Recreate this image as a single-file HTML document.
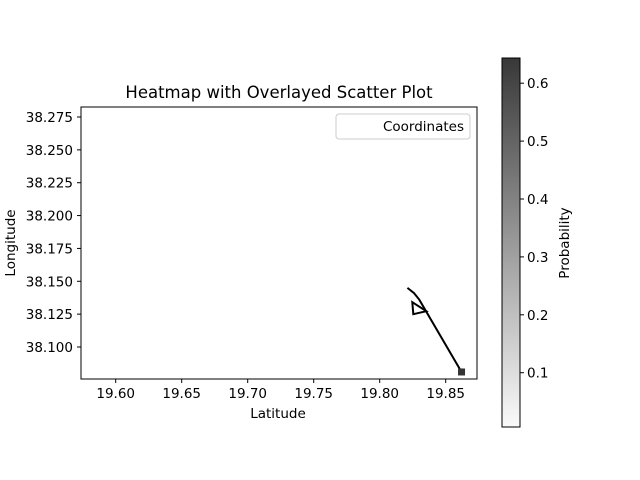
<!DOCTYPE html>
<html><head><meta charset="utf-8"><style>
body{margin:0;background:#fff;}
svg{display:block;font-family:"DejaVu Sans","Liberation Sans",sans-serif;}
</style></head><body>
<svg id="c" width="640" height="480" viewBox="0 0 640 480">
<defs><linearGradient id="cg" x1="0" y1="1" x2="0" y2="0"><stop offset="0" stop-color="#fafafa"/><stop offset="1" stop-color="#383838"/></linearGradient></defs>
<rect x="0" y="0" width="640" height="480" fill="#fff"/>
<text x="279" y="98" font-size="16.5" text-anchor="middle">Heatmap with Overlayed Scatter Plot</text>
<g id="plot"></g>
<rect x="81" y="107" width="396" height="272" fill="none" stroke="#000" stroke-width="1"/>
<g>
<rect x="336" y="114" width="134" height="25" rx="3" fill="#fff" stroke="#ccc"/>
<text x="464" y="131" font-size="13.5" text-anchor="end">Coordinates</text>
</g>
<text x="278" y="418" font-size="13.5" text-anchor="middle">Latitude</text>
<text transform="translate(15,243) rotate(-90)" font-size="13.5" text-anchor="middle">Longitude</text>
<rect x="502" y="58" width="18" height="369" fill="url(#cg)" stroke="#000" stroke-width="1"/>
<g id="cb"></g>
<text transform="translate(569,243) rotate(-90)" font-size="13.5" text-anchor="middle">Probability</text>
</svg>
<script>
const xTicks=[19.60,19.65,19.70,19.75,19.80,19.85];
const yTicks=[38.100,38.125,38.150,38.175,38.200,38.225,38.250,38.275];
const cbTicks=[0.1,0.2,0.3,0.4,0.5,0.6];
const pathLat=[19.821,19.826,19.830,19.862];
const pathLon=[38.145,38.141,38.136,38.081];
const markerLat=[19.862];
const markerLon=[38.081];
const arrowLat=[19.830];
const arrowLon=[38.128];
const NS='http://www.w3.org/2000/svg';
const X=v=>115.7+(v-19.60)*1320;
const Y=v=>347-(v-38.100)*1314.3;
const C=v=>372.7-(v-0.1)*579;
const plot=document.getElementById('plot'),cb=document.getElementById('cb'),svg=document.getElementById('c');
function mk(t,a,p){const e=document.createElementNS(NS,t);for(const k in a)e.setAttribute(k,a[k]);(p||svg).appendChild(e);return e;}
xTicks.forEach(v=>{
const l=mk('line',{x1:X(v),x2:X(v),y1:379,y2:383,stroke:'#000'});


const t=mk('text',{x:X(v),y:398,'font-size':13.5,'text-anchor':'middle'});t.textContent=v.toFixed(2);


});
yTicks.forEach(v=>{
const l=mk('line',{x1:77,x2:81,y1:Y(v),y2:Y(v),stroke:'#000'});


const t=mk('text',{x:73,y:Y(v)+5,'font-size':13.5,'text-anchor':'end'});t.textContent=v.toFixed(3);


});
cbTicks.forEach(v=>{
const l=mk('line',{x1:520,x2:524,y1:C(v),y2:C(v),stroke:'#000'},cb);


const t=mk('text',{x:527,y:C(v)+5,'font-size':13.5},cb);t.textContent=v.toFixed(1);


});
let d=pathLat.map((v,i)=>(i?'L':'M')+X(v)+','+Y(pathLon[i])).join(' ');
const p=mk('path',{d:d,fill:'none',stroke:'#000','stroke-width':2},plot);


markerLat.forEach((v,i)=>{
const r=mk('rect',{x:X(v)-3.5,y:Y(markerLon[i])-3.5,width:7,height:7,fill:'#333'},plot);


});
arrowLat.forEach((v,i)=>{
const cx=X(v),cy=Y(arrowLon[i]);
const a=mk('polygon',{points:`${cx-7},${cy-8} ${cx-6},${cy+4} ${cx+7},${cy+1}`,fill:'none',stroke:'#000','stroke-width':2},plot);


});
</script>
</body></html>
